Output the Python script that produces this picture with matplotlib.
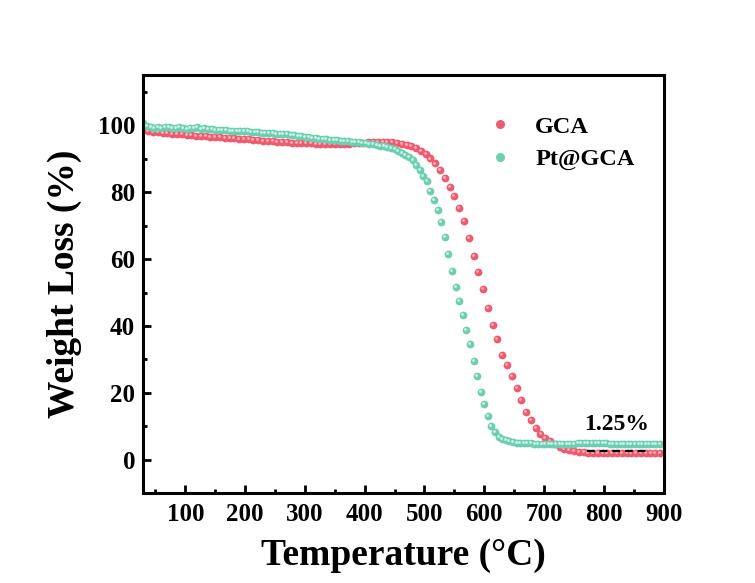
import matplotlib
matplotlib.use("Agg")
import matplotlib.pyplot as plt
from matplotlib.lines import Line2D
from matplotlib.transforms import offset_copy

# GCA: temperature (°C) and weight (%)
gca_temp = [30, 38, 46, 54, 62, 70, 78, 86, 94, 102, 110, 118, 126, 134, 142, 150,
            158, 166, 174, 182, 190, 198, 206, 214, 222, 230, 238, 246, 254, 262,
            270, 278, 286, 294, 302, 310, 318, 326, 334, 342, 350, 358, 366, 374,
            382, 390, 398, 406, 414, 422, 430, 438, 446, 454, 462, 470, 478, 486,
            494, 502, 510, 518, 526, 534, 542, 550, 558, 566, 574, 582, 590, 598,
            606, 614, 622, 630, 638, 646, 654, 662, 670, 678, 686, 694, 702, 710,
            718, 726, 734, 742, 750, 758, 766, 774, 782, 790, 798, 806, 814, 822,
            830, 838, 846, 854, 862, 870, 878, 886, 894]
gca_weight = [98.6, 98.3, 98.1, 97.9, 97.8, 97.6, 97.5, 97.4, 97.3, 97.2, 97.0, 96.9,
              96.8, 96.7, 96.6, 96.5, 96.4, 96.3, 96.2, 96.1, 96.0, 96.0, 95.9, 95.7,
              95.6, 95.4, 95.3, 95.2, 95.1, 95.0, 94.9, 94.8, 94.8, 94.7, 94.7, 94.6,
              94.5, 94.5, 94.4, 94.4, 94.4, 94.4, 94.5, 94.5, 94.6, 94.7, 94.8, 94.9,
              94.9, 95.0, 95.0, 95.0, 94.9, 94.7, 94.5, 94.2, 93.8, 93.2, 92.4, 91.4,
              90.1, 88.6, 86.6, 84.3, 81.6, 78.9, 75.4, 71.4, 66.4, 61.0, 56.2, 51.0,
              45.5, 40.2, 36.0, 31.4, 28.4, 25.0, 21.5, 17.8, 14.4, 11.9, 9.5, 7.6,
              6.5, 5.5, 4.6, 3.9, 3.3, 2.8, 2.5, 2.3, 2.2, 2.1, 2.1, 2.0, 2.0, 2.0,
              2.0, 1.9, 1.9, 1.9, 1.9, 1.9, 1.9, 1.9, 1.9, 1.9, 2.0]

# Pt@GCA
pt_temp = [30, 36, 42, 48, 54, 60, 66, 72, 78, 84, 90, 96, 102, 108, 114, 120, 126,
           132, 138, 144, 150, 156, 162, 168, 174, 180, 186, 192, 198, 204, 210, 216,
           222, 228, 234, 240, 246, 252, 258, 264, 270, 276, 282, 288, 294, 300, 306,
           312, 318, 324, 330, 336, 342, 348, 354, 360, 366, 372, 378, 384, 390, 396,
           402, 408, 414, 420, 426, 432, 438, 444, 450, 456, 462, 468, 474, 480, 486,
           492, 498, 504, 510, 516, 522, 528, 534, 540, 546, 552, 558, 564, 570, 576,
           582, 588, 594, 600, 606, 612, 618, 624, 630, 636, 642, 648, 654, 660, 666,
           672, 678, 684, 690, 696, 702, 708, 714, 720, 726, 732, 738, 744, 750, 756,
           762, 768, 774, 780, 786, 792, 798, 804, 810, 816, 822, 828, 834, 840, 846,
           852, 858, 864, 870, 876, 882, 888, 894]
pt_weight = [100.8, 99.8, 99.4, 99.3, 99.5, 99.1, 99.4, 99.6, 99.2, 99.1, 99.4, 99.2,
             99.0, 99.3, 99.1, 99.4, 99.0, 99.1, 98.8, 98.9, 98.7, 98.6, 98.7, 98.5,
             98.4, 98.4, 98.3, 98.3, 98.2, 98.2, 98.1, 98.0, 97.9, 97.8, 97.8, 97.7,
             97.6, 97.5, 97.5, 97.4, 97.3, 97.2, 97.0, 96.8, 96.7, 96.5, 96.4, 96.2,
             96.1, 96.0, 95.9, 95.8, 95.7, 95.6, 95.5, 95.4, 95.3, 95.2, 95.1, 95.0,
             94.9, 94.8, 94.7, 94.5, 94.3, 94.1, 93.9, 93.7, 93.4, 93.1, 92.8, 92.4,
             91.8, 91.1, 90.4, 89.6, 88.2, 86.6, 85.0, 83.3, 80.5, 77.8, 74.6, 71.2,
             66.5, 61.4, 56.5, 51.8, 47.6, 43.3, 38.8, 34.5, 29.5, 25.0, 20.2, 16.8,
             13.2, 10.0, 8.2, 6.9, 6.2, 5.8, 5.5, 5.3, 5.1, 5.0, 4.9, 4.9, 4.9, 4.8,
             4.8, 4.8, 4.8, 4.8, 4.8, 4.8, 4.8, 4.8, 4.8, 4.8, 4.8, 4.9, 4.9, 5.0, 5.1,
             5.0, 4.9, 4.9, 4.9, 4.9, 4.8, 4.8, 4.8, 4.8, 4.8, 4.8, 4.8, 4.8, 4.8, 4.8,
             4.8, 4.8, 4.8, 4.8, 4.8]

residue_x = [772, 878]
residue_y = [2.5, 2.5]

RED = "#ee5a6e"
RED_HI = "#ffb3bd"
TEAL = "#6ccfb2"
TEAL_HI = "#d2f4ea"

plt.rcParams["font.family"] = ["Liberation Serif", "DejaVu Serif"]
plt.rcParams["font.weight"] = "bold"

fig = plt.figure(figsize=(7.55, 5.83), dpi=100)
ax = fig.add_axes([0.19, 0.154, 0.689, 0.717])

hi = offset_copy(ax.transData, fig=fig, x=-0.7, y=0.7, units="points")
for temp, weight, base, light in [(gca_temp, gca_weight, RED, RED_HI),
                                  (pt_temp, pt_weight, TEAL, TEAL_HI)]:
    ax.plot(temp, weight, "o", ms=5.6, color=base, mec="none", zorder=2)
    ax.plot(temp, weight, "o", ms=2.0, color=light, mec="none", zorder=2,
            transform=hi)

ax.plot(residue_x, residue_y, color="black", lw=1.6, ls=(0, (3.5, 2.2)), zorder=3)
ax.text(822, 10.6, "1.25%", fontsize=17, fontweight="bold", ha="center", va="center")

ax.set_xlim(30, 900)
ax.set_ylim(-10, 115)
ax.set_xticks([100, 200, 300, 400, 500, 600, 700, 800, 900])
ax.set_xticks([50, 150, 250, 350, 450, 550, 650, 750, 850], minor=True)
ax.set_yticks([0, 20, 40, 60, 80, 100])
ax.set_yticks([10, 30, 50, 70, 90, 110], minor=True)
ax.tick_params(which="both", direction="in", width=2, top=False, right=False,
               labelsize=18)
ax.tick_params(which="major", length=5.5)
ax.tick_params(which="minor", length=3)
ax.tick_params(axis="x", pad=7)
ax.tick_params(axis="y", pad=6)
for sp in ax.spines.values():
    sp.set_linewidth(2.2)

ax.set_xlabel("Temperature (°C)", fontsize=27, fontweight="bold", labelpad=9)
ax.set_ylabel("Weight Loss (%)", fontsize=27, fontweight="bold", labelpad=11)

handles = [Line2D([], [], ls="none", marker="o", ms=6.5, color=RED, mec="none"),
           Line2D([], [], ls="none", marker="o", ms=6.5, color=TEAL, mec="none")]
ax.legend(handles, ["GCA", "Pt@GCA"], loc="upper left",
          bbox_to_anchor=(0.662, 0.903), frameon=False, fontsize=17.5,
          handlelength=1.0, handletextpad=0.95, labelspacing=0.43, borderpad=0,
          borderaxespad=0)

fig.savefig("out.png", dpi=100)
